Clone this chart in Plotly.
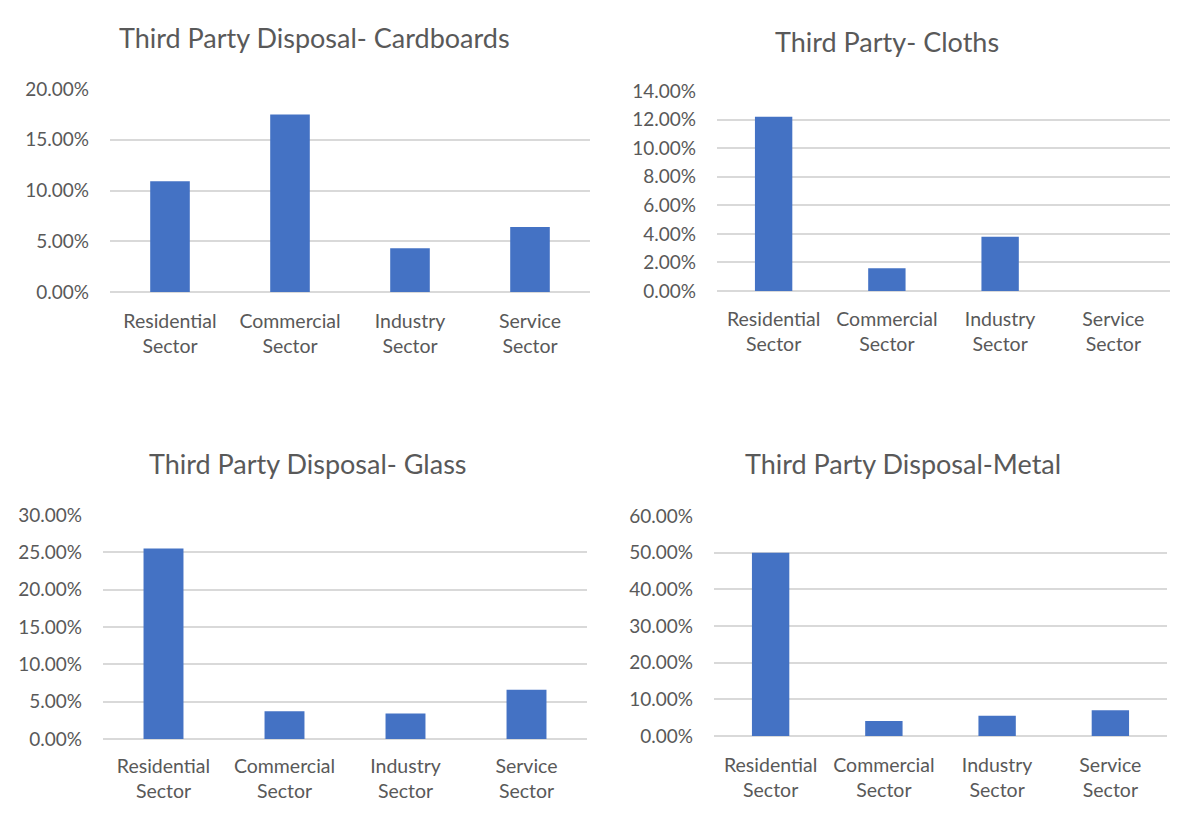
import plotly.graph_objects as go

categories = ["Residential<br>Sector", "Commercial<br>Sector", "Industry<br>Sector", "Service<br>Sector"]

titles = ["Third Party Disposal- Cardboards", "Third Party- Cloths",
          "Third Party Disposal- Glass", "Third Party Disposal-Metal"]

cardboards = [0.109, 0.175, 0.043, 0.064]
cloths = [0.122, 0.016, 0.038, 0.0]
glass = [0.255, 0.037, 0.034, 0.066]
metal = [0.500, 0.041, 0.055, 0.070]

y_max = [0.20, 0.14, 0.30, 0.60]
y_step = [0.05, 0.02, 0.05, 0.10]

series = [cardboards, cloths, glass, metal]

# page has an 8px body margin; figure fits inside the 1190x816 window
OFF = 8
W, H = 1190 - 2 * OFF, 816 - 2 * OFF
# pixel boxes in window coordinates: (left, right, top, bottom)
boxes = [(110, 590, 89, 292), (717, 1170, 91, 291), (103, 587, 515, 739), (714, 1167, 516, 736)]
title_pos = [(314, 37), (887, 42), (308, 464), (903, 464)]
x_standoff = [15, 14, 13, 15]

BAR = "#4472C4"
TXT = "#595959"
GRID = "#D9D9D9"
FONT = "Lato, 'Open Sans', sans-serif"

fig = go.Figure()
layout = dict(
    template="none",
    width=W, height=H, margin=dict(l=0, r=0, t=0, b=0, pad=0),
    paper_bgcolor="white", plot_bgcolor="white", showlegend=False,
    font=dict(family=FONT, color=TXT, size=19),
    annotations=[],
)

for i, vals in enumerate(series):
    n = "" if i == 0 else str(i + 1)
    fig.add_trace(go.Bar(x=categories, y=vals, marker=dict(color=BAR, line=dict(width=0)),
                         width=0.33, xaxis="x" + n, yaxis="y" + n, hoverinfo="x+y"))
    l, r, t, b = [v - OFF for v in boxes[i]]
    layout["xaxis" + n] = dict(domain=[l / W, r / W], anchor="y" + n, showgrid=False,
                               showline=False, ticks="", automargin=False,
                               ticklabelstandoff=x_standoff[i],
                               tickfont=dict(size=19.5, color=TXT), fixedrange=True)
    layout["yaxis" + n] = dict(domain=[1 - b / H, 1 - t / H], anchor="x" + n,
                               range=[0, y_max[i]], dtick=y_step[i], tick0=0,
                               tickformat=".2%", showgrid=True, gridcolor=GRID, gridwidth=1.5,
                               zeroline=True, zerolinecolor=GRID, zerolinewidth=1.5,
                               showline=False, ticks="", ticklabelstandoff=20, automargin=False,
                               tickfont=dict(size=19, color=TXT), fixedrange=True)
    tx, ty = title_pos[i]
    layout["annotations"].append(dict(text=titles[i], x=(tx - OFF) / W, y=1 - (ty - OFF) / H,
                                      xref="paper", yref="paper", showarrow=False,
                                      xanchor="center", yanchor="middle",
                                      font=dict(size=27, color=TXT, family=FONT)))

fig.update_layout(**layout)
fig.write_html("out.html")
